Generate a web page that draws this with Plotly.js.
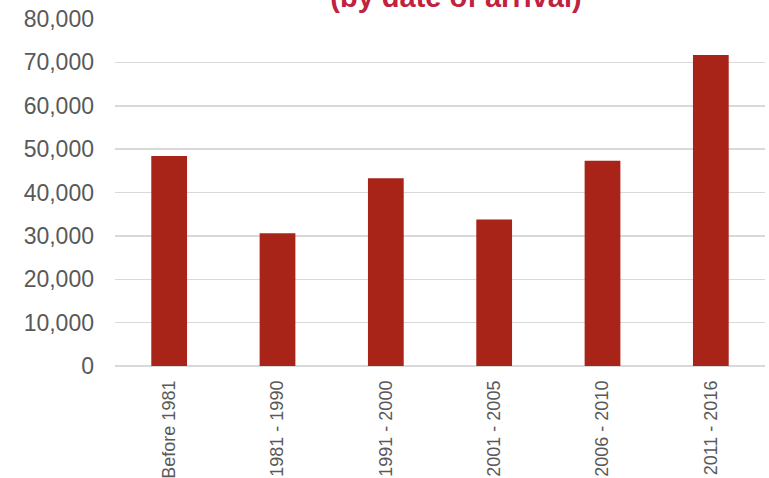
<!DOCTYPE html>
<html><head><meta charset="utf-8">
<script src="https://cdn.plot.ly/plotly-3.0.1.min.js"></script>
<style>html,body{margin:0;padding:0;background:#fff}</style>
</head><body><div id="chart" style="width:769px;height:478px"></div>
<script>
const categories = ["Before 1981", "1981 - 1990", "1991 - 2000", "2001 - 2005", "2006 - 2010", "2011 - 2016"];
const values = [48400, 30600, 43300, 33800, 47300, 71700];
const yTicks = [0, 10000, 20000, 30000, 40000, 50000, 60000, 70000, 80000];

Plotly.newPlot('chart', [{
  type: 'bar', x: categories, y: values,
  marker: {color: '#A82318'}, hoverinfo: 'none'
}], {
  width: 769, height: 478,
  margin: {l: 115, r: 4, t: 19, b: 112},
  bargap: 0.67,
  paper_bgcolor: '#fff', plot_bgcolor: '#fff',
  font: {family: 'Liberation Sans, Arial, sans-serif', color: '#595959'},
  title: {text: '(by date of arrival)', font: {size: 29, color: '#C0223F', family: 'Liberation Sans, Arial, sans-serif', weight: 'bold'},
          x: 456/769, xanchor: 'center', xref: 'container', y: 1 - 7/478, yref: 'container', yanchor: 'bottom'},
  xaxis: {tickangle: -90, tickfont: {size: 18, color: '#595959'}, showline: false, ticks: '', ticklabelstandoff: 10},
  yaxis: {range: [0, 80000], tickvals: yTicks, tickformat: ',', tickfont: {size: 23, color: '#595959'},
          gridcolor: '#d9d9d9', gridwidth: 1.5, zeroline: true, zerolinecolor: '#d9d9d9', zerolinewidth: 1.5,
          showline: false, ticks: '', ticklabelstandoff: 20},
  showlegend: false
}, {staticPlot: true});
</script></body></html>
